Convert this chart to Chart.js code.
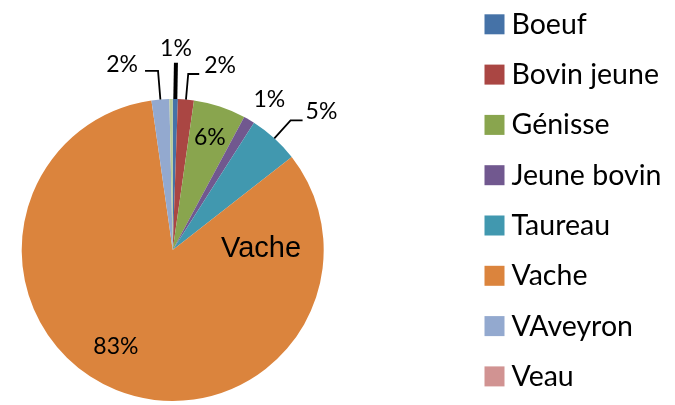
<!DOCTYPE html>
<html>
<head>
<meta charset="utf-8">
<script src="https://cdn.jsdelivr.net/npm/chart.js@4"></script>
<style>
  html, body { margin: 0; padding: 0; background: #ffffff; }
  #wrap { width: 675px; height: 405px; position: relative; }
</style>
</head>
<body>
<div id="wrap"><canvas id="pie"></canvas></div>
<script>
// Categories of cattle and their share of the total (%)
const categories = ['Boeuf', 'Bovin jeune', 'Génisse', 'Jeune bovin', 'Taureau', 'Vache', 'VAveyron', 'Veau', ''];
const shares     = [0.55, 1.7, 5.6, 1.2, 5.4, 83.3, 1.9, 0, 0.35];
const sliceColors = ['#4572A7', '#AA4643', '#89A54E', '#71588F', '#4198AF', '#DB843D', '#93A9CF', '#D19392', '#B9CD96'];

// Percentage label layout per slice: either a leader line (elbow radius factor, horizontal run,
// text gap) or a free label at radius factor k, turned by a few degrees from the slice middle.
const labelLayout = {
  'Boeuf':       { leader: 1.24, run: 0,   gap: 0, dy: -7, lw: 4 },
  'Bovin jeune': { leader: 1.17, run: 11,  gap: 5, dy: -1 },
  'Génisse':     { k: 0.79, turn: 0 },
  'Jeune bovin': { k: 1.19, turn: 2.1 },
  'Taureau':     { leader: 1.16, run: 12,  gap: 3, dy: -1 },
  'Vache':       { k: 0.74, turn: 8.6, name: { k: 0.585, turn: -113.9 } },
  'VAveyron':    { leader: 1.19, run: -13, gap: 7, dy: 1 }
};

const PCT_SIZE = 23;
const PCT_FONT = PCT_SIZE + 'px Lato, "Open Sans", sans-serif';
const NAME_FONT = '29px "Liberation Sans", Arial, sans-serif';
const LEGEND_FONT = '28.5px Lato, "Open Sans", sans-serif';

const pieLabels = {
  id: 'pieLabels',
  afterDatasetsDraw(chart) {
    const ctx = chart.ctx;
    const meta = chart.getDatasetMeta(0);
    const values = chart.data.datasets[0].data;
    const total = values.reduce((a, b) => a + b, 0);
    ctx.save();
    ctx.fillStyle = '#000000';
    ctx.strokeStyle = '#000000';
    meta.data.forEach((arc, i) => {
      const name = chart.data.labels[i];
      const cfg = labelLayout[name];
      if (!cfg) return;
      const { x: cx, y: cy, startAngle, endAngle, outerRadius: R } = arc.getProps(['x', 'y', 'startAngle', 'endAngle', 'outerRadius'], true);
      const mid = (startAngle + endAngle) / 2;
      const at = (k, ang) => ({ x: cx + k * R * Math.cos(ang), y: cy + k * R * Math.sin(ang) });
      const text = Math.round(values[i] / total * 100) + '%';
      ctx.font = PCT_FONT;
      ctx.textBaseline = 'alphabetic';
      if (cfg.leader) {
        const p0 = at(1, mid);
        const p1 = at(cfg.leader, mid);
        const p2 = { x: p1.x + cfg.run, y: p1.y };
        ctx.lineWidth = cfg.lw || 1.8;
        ctx.beginPath();
        ctx.moveTo(p0.x, p0.y);
        ctx.lineTo(p1.x, p1.y);
        if (cfg.run) ctx.lineTo(p2.x, p2.y);
        ctx.stroke();
        if (cfg.run > 0) { ctx.textAlign = 'left'; ctx.fillText(text, p2.x + cfg.gap, p2.y + cfg.dy); }
        else if (cfg.run < 0) { ctx.textAlign = 'right'; ctx.fillText(text, p2.x - cfg.gap, p2.y + cfg.dy); }
        else { ctx.textAlign = 'center'; ctx.fillText(text, p2.x, p2.y + cfg.dy); }
      } else {
        const p = at(cfg.k, mid + cfg.turn * Math.PI / 180);
        ctx.textAlign = 'center';
        ctx.fillText(text, p.x, p.y + 0.36 * PCT_SIZE);
      }
      if (cfg.name) {
        const q = at(cfg.name.k, mid + cfg.name.turn * Math.PI / 180);
        ctx.font = NAME_FONT;
        ctx.textAlign = 'center';
        ctx.fillText(name, q.x, q.y + 10.4);
      }
    });
    ctx.restore();
  }
};

// Legend column on the right: one square swatch and name per named category
const sideLegend = {
  id: 'sideLegend',
  afterDraw(chart) {
    const ctx = chart.ctx;
    const colors = chart.data.datasets[0].backgroundColor;
    ctx.save();
    ctx.font = LEGEND_FONT;
    ctx.textAlign = 'left';
    ctx.textBaseline = 'alphabetic';
    let row = 0;
    chart.data.labels.forEach((name, i) => {
      if (!name) return;
      const yc = 24.3 + row * 50.3;
      ctx.fillStyle = colors[i];
      ctx.fillRect(484.5, yc - 10, 20, 20);
      ctx.fillStyle = '#000000';
      ctx.fillText(name, 511.5, yc + 9.5);
      row++;
    });
    ctx.restore();
  }
};

function build() {
  new Chart(document.getElementById('pie'), {
    type: 'pie',
    data: {
      labels: categories,
      datasets: [{
        data: shares,
        backgroundColor: sliceColors,
        borderWidth: 0
      }]
    },
    options: {
      responsive: true,
      maintainAspectRatio: false,
      animation: false,
      layout: { padding: { left: 21.7, top: 99, right: 351.3, bottom: 4 } },
      plugins: {
        legend: { display: false },
        tooltip: { enabled: false }
      }
    },
    plugins: [pieLabels, sideLegend]
  });
}

Promise.all([
  document.fonts.load(PCT_FONT),
  document.fonts.load(NAME_FONT),
  document.fonts.load(LEGEND_FONT)
]).then(build, build);
</script>
</body>
</html>
